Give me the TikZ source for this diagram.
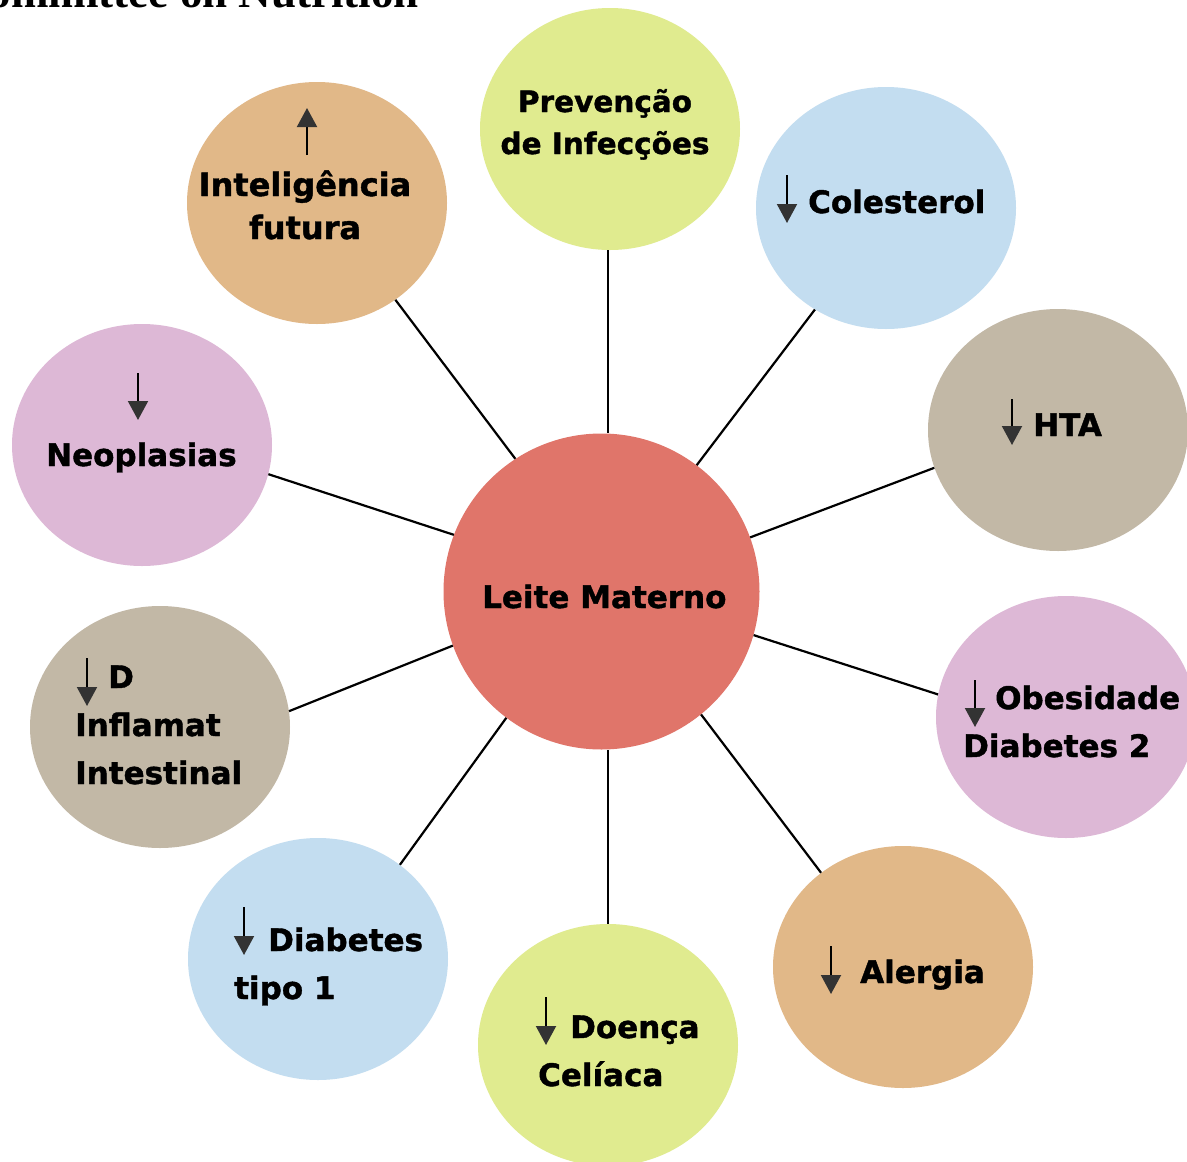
\documentclass[tikz,border=0pt]{standalone}
\usepackage{fontspec}
\setmainfont{DejaVu Sans}[BoldFeatures={FakeBold=1.3}]
\newfontfamily\serifbold{Liberation Serif}
\usetikzlibrary{shapes.geometric,arrows.meta}
\definecolor{cred}{HTML}{E0756A}
\definecolor{cyel}{HTML}{E0EB8F}
\definecolor{cblu}{HTML}{C3DDF0}
\definecolor{cgry}{HTML}{C2B8A6}
\definecolor{cpnk}{HTML}{DDB8D6}
\definecolor{ctan}{HTML}{E1B888}
\definecolor{ahead}{HTML}{333333}
\tikzset{
  bub/.style={ellipse, minimum width=260pt, minimum height=242pt, inner sep=0pt, draw=none},
  lbl/.style={font=\bfseries\fontsize{31}{31}\selectfont, inner sep=0pt},
  lblp/.style={font=\bfseries\fontsize{29.5}{29.5}\selectfont, inner sep=0pt},
  lbli/.style={font=\bfseries\fontsize{32}{32}\selectfont, inner sep=0pt},
  conn/.style={line width=2.2pt, black},
  dnarr/.style={draw=black, line width=2pt, -{Triangle[width=20pt,length=19pt,color=ahead,fill=ahead]}}
}
\begin{document}
\begin{tikzpicture}[x=1pt,y=-1pt]
\useasboundingbox (0,0) rectangle (1187,1162);
\fill[white] (0,0) rectangle (1187,1162);
% partial title
\node[font=\serifbold\bfseries\fontsize{45}{45}\selectfont, anchor=base east, inner sep=0pt] (title) at (419,7) {Committee on Nutrition};
% bubbles
\node[bub, fill=cyel] (prev) at (610,129) {};
\node[bub, fill=cblu] (cole) at (886,208) {};
\node[bub, fill=cgry] (hta) at (1058,430) {};
\node[bub, fill=cpnk] (obes) at (1066,717) {};
\node[bub, fill=ctan] (aler) at (903,967) {};
\node[bub, fill=cyel] (celi) at (608,1045) {};
\node[bub, fill=cblu] (diab) at (318,959) {};
\node[bub, fill=cgry] (infl) at (160,727) {};
\node[bub, fill=cpnk] (neop) at (142,445) {};
\node[bub, fill=ctan] (inte) at (317,203) {};
\node[circle, minimum size=316pt, inner sep=0pt, fill=cred] (leite) at (601.5,591.5) {};
% connectors
\draw[conn] (prev.south -| 608,0) -- (leite.north -| 608,0);
\draw[conn] (celi.north -| 608,0) -- (leite.south -| 608,0);
\draw[conn] (cole.235.4) -- (leite.53);
\draw[conn] (hta.197.2) -- (leite.20.5);
\draw[conn] (obes.170.6) -- (leite.344);
\draw[conn] (aler.131) -- (leite.309.9);
\draw[conn] (diab.49.7) -- (leite.233.5);
\draw[conn] (infl.7.7) -- (leite.200.75);
\draw[conn] (neop.-13) -- (leite.159.2);
\draw[conn] (inte.309) -- (leite.123.1);
% texts
\node[lbl, anchor=base west] (tleite) at (482,608) {Leite Materno};
\node[lblp, anchor=base] (tprev1) at (605,112) {Prevenção};
\node[lblp, anchor=base] (tprev2) at (605,154) {de Infecções};
\node[lbli, anchor=base] (tint1) at (305,196) {Inteligência};
\node[lbli, anchor=base] (tint2) at (305,239) {futura};
\node[lbl, anchor=base west] (tcole) at (808,213) {Colesterol};
\node[lbl, anchor=base west] (thta) at (1033,436) {HTA};
\node[lbl, anchor=base west] (tneop) at (46,466) {Neoplasias};
\node[lbl, anchor=base west] (tinf1) at (108,688) {D};
\node[lbl, anchor=base west] (tinf2) at (75,736) {Inflamat};
\node[lbl, anchor=base west] (tinf3) at (75,784) {Intestinal};
\node[lbl, anchor=base west] (tobe1) at (995,709) {Obesidade};
\node[lbl, anchor=base west] (tobe2) at (963,757) {Diabetes 2};
\node[lbl, anchor=base west] (taler) at (860,983) {Alergia};
\node[lbl, anchor=base west] (tdia1) at (268,951) {Diabetes};
\node[lbl, anchor=base west] (tdia2) at (234,999) {tipo 1};
\node[lbl, anchor=base west] (tcel1) at (570,1038) {Doença};
\node[lbl, anchor=base west] (tcel2) at (538,1086) {Celíaca};
% arrows
\draw[dnarr] (307,155) -- (307,108);
\draw[dnarr] (787,175) -- (787,223);
\draw[dnarr] (1012,399) -- (1012,445);
\draw[dnarr] (138,373) -- (138,420);
\draw[dnarr] (975,680) -- (975,727);
\draw[dnarr] (87,658) -- (87,706);
\draw[dnarr] (831,946) -- (831,994);
\draw[dnarr] (546,997) -- (546,1045);
\draw[dnarr] (244,907) -- (244,955);
\end{tikzpicture}
\end{document}
